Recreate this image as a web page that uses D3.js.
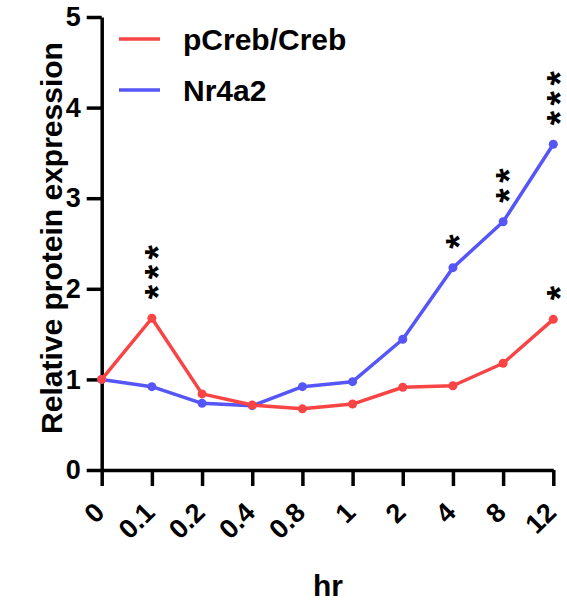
<!DOCTYPE html>
<html>
<head>
<meta charset="utf-8">
<style>
  body { margin: 0; background: #fff; }
  text { font-family: "Liberation Sans", Arial, sans-serif; font-weight: bold; }
</style>
</head>
<body>
<script src="https://d3js.org/d3.v7.min.js"></script>
<script>
const hours = ['0', '0.1', '0.2', '0.4', '0.8', '1', '2', '4', '8', '12'];
const pCreb = [1.0, 1.675, 0.84, 0.717, 0.675, 0.728, 0.913, 0.93, 1.178, 1.663];
const nr4a2 = [1.0, 0.92, 0.736, 0.71, 0.92, 0.975, 1.443, 2.233, 2.74, 3.595];
const pCrebStars = ['', '***', '', '', '', '', '', '', '', '*'];
const nr4a2Stars = ['', '', '', '', '', '', '', '*', '**', '***'];
const yTicks = [0, 1, 2, 3, 4, 5];

const W = 567, H = 605;
const RED = '#f84444', BLUE = '#5656f8';

const svg = d3.select('body').append('svg')
    .attr('width', W).attr('height', H);

const x = d3.scalePoint().domain(hours).range([101.7, 553.3]);
const y = d3.scaleLinear().domain([0, 5]).range([470, 17]);

// y axis
const yAxis = svg.append('g')
    .attr('transform', 'translate(101.7,0)')
    .call(d3.axisLeft(y).tickValues(yTicks).tickFormat(d3.format('d'))
        .tickSize(15).tickPadding(6).tickSizeOuter(0));
yAxis.select('.domain').attr('stroke-width', 3.5);
yAxis.selectAll('.tick line').attr('stroke-width', 3.5);
yAxis.selectAll('.tick text').attr('font-size', 27).attr('fill', '#000');

// x axis
const xAxis = svg.append('g')
    .attr('transform', 'translate(0,470)')
    .call(d3.axisBottom(x).tickSize(16).tickSizeOuter(0));
xAxis.select('.domain').attr('stroke-width', 3.5);
xAxis.selectAll('.tick line').attr('stroke-width', 3.5);
xAxis.selectAll('.tick text')
    .attr('font-size', 27).attr('fill', '#000')
    .attr('text-anchor', 'end')
    .attr('y', 0).attr('dy', 0)
    .attr('transform', 'translate(4,44) rotate(-45)');

// axis titles
svg.append('text')
    .attr('transform', 'translate(62,238) rotate(-90)')
    .attr('text-anchor', 'middle')
    .attr('font-size', 30)
    .text('Relative protein expression');
svg.append('text')
    .attr('x', 328).attr('y', 596)
    .attr('text-anchor', 'middle')
    .attr('font-size', 30)
    .text('hr');

// series
const series = [
    {name: 'pCreb/Creb', values: pCreb, stars: pCrebStars, color: RED},
    {name: 'Nr4a2', values: nr4a2, stars: nr4a2Stars, color: BLUE}
];
const line = d3.line().x((d, i) => x(hours[i])).y(d => y(d));

// draw blue first so red sits on top at the shared start
series.slice().reverse().forEach(s => {
    svg.append('path')
        .datum(s.values)
        .attr('fill', 'none')
        .attr('stroke', s.color)
        .attr('stroke-width', 3.5)
        .attr('stroke-linejoin', 'round')
        .attr('d', line);
    svg.selectAll(null)
        .data(s.values)
        .enter().append('circle')
        .attr('cx', (d, i) => x(hours[i]))
        .attr('cy', d => y(d))
        .attr('r', 4.5)
        .attr('fill', s.color);
});

// significance stars, written vertically above the points
series.forEach(s => {
    s.stars.forEach((st, i) => {
        if (!st) return;
        const px = x(hours[i]), py = y(s.values[i]) - 19;
        svg.append('text')
            .attr('transform', `translate(${px},${py}) rotate(-90)`)
            .attr('dy', '0.52em')
            .attr('font-size', 37)
            .attr('font-weight', 'normal')
            .attr('letter-spacing', 5.5)
            .text(st);
    });
});

// legend
const legend = svg.append('g');
series.forEach((s, i) => {
    const ly = 39 + i * 51;
    legend.append('line')
        .attr('x1', 119).attr('x2', 160)
        .attr('y1', ly).attr('y2', ly)
        .attr('stroke', s.color).attr('stroke-width', 3.5);
    legend.append('text')
        .attr('x', 183).attr('y', ly).attr('dy', '0.36em')
        .attr('font-size', 30)
        .text(s.name);
});
</script>
</body>
</html>
